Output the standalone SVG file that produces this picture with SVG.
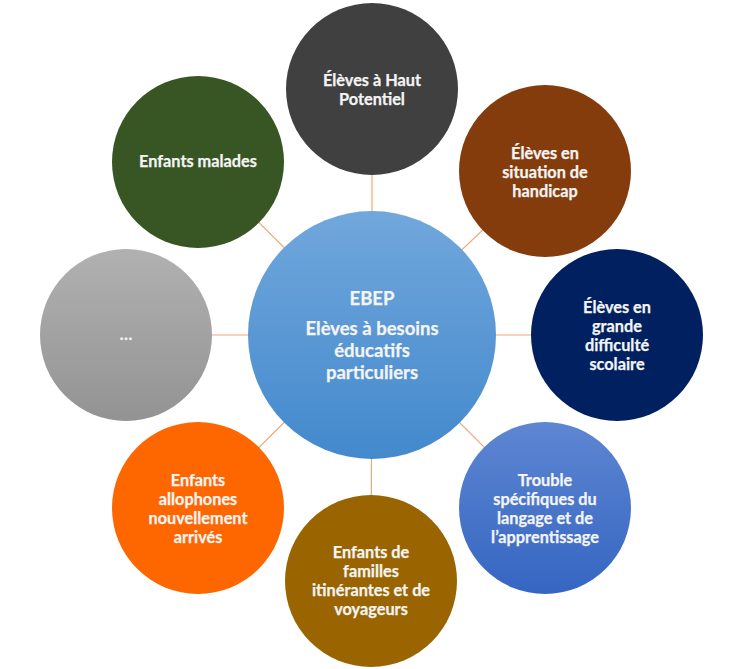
<svg xmlns="http://www.w3.org/2000/svg" width="750" height="669" viewBox="0 0 750 669">
<defs>
<linearGradient id="gCenter" x1="0" y1="0" x2="0" y2="1"><stop offset="0" stop-color="#71A7DC"/><stop offset="1" stop-color="#4389CD"/></linearGradient>
<linearGradient id="gGrey" x1="0" y1="0" x2="0" y2="1"><stop offset="0" stop-color="#B1B1B1"/><stop offset="1" stop-color="#939393"/></linearGradient>
<linearGradient id="gBlue" x1="0" y1="0" x2="0" y2="1"><stop offset="0" stop-color="#5E86D2"/><stop offset="1" stop-color="#3566C2"/></linearGradient>
<style>
.t{font-family:Lato,"Liberation Sans",sans-serif;font-weight:bold;font-size:16.3px;fill:#F4F4F4;text-anchor:middle;stroke:#F4F4F4;stroke-width:0.25}
.c{font-family:Lato,"Liberation Sans",sans-serif;font-weight:bold;font-size:18.5px;fill:#F4F4F4;text-anchor:middle;stroke:#F4F4F4;stroke-width:0.25}
.ln{stroke:#F0A878;stroke-width:1.2}
</style>
</defs>
<rect width="750" height="669" fill="#fff"/>
<g id="connectors">
<line class="ln" x1="372" y1="335" x2="372" y2="89"/>
<line class="ln" x1="372" y1="335" x2="545" y2="171"/>
<line class="ln" x1="372" y1="335" x2="617" y2="335"/>
<line class="ln" x1="372" y1="335" x2="545" y2="508"/>
<line class="ln" x1="372" y1="335" x2="371" y2="581"/>
<line class="ln" x1="372" y1="335" x2="198" y2="508"/>
<line class="ln" x1="372" y1="335" x2="126" y2="335"/>
<line class="ln" x1="372" y1="335" x2="198" y2="162"/>
</g>
<g id="center">
<circle cx="372" cy="335" r="124" fill="url(#gCenter)"/>
<text class="c" x="372" y="305">EBEP</text>
<text class="c" x="372" y="335">Elèves à besoins</text>
<text class="c" x="372" y="357">éducatifs</text>
<text class="c" x="372" y="379">particuliers</text>
</g>
<g id="n-haut-potentiel">
<circle cx="372" cy="89" r="86" fill="#404040"/>
<text class="t" x="372" y="86">Élèves à Haut</text>
<text class="t" x="372" y="105">Potentiel</text>
</g>
<g id="n-handicap">
<circle cx="545" cy="171" r="86" fill="#843C0C"/>
<text class="t" x="545" y="159">Élèves en</text>
<text class="t" x="545" y="178">situation de</text>
<text class="t" x="545" y="197">handicap</text>
</g>
<g id="n-difficulte">
<circle cx="617" cy="335" r="86" fill="#002060"/>
<text class="t" x="617" y="313">Élèves en</text>
<text class="t" x="617" y="332">grande</text>
<text class="t" x="617" y="351">difficulté</text>
<text class="t" x="617" y="370">scolaire</text>
</g>
<g id="n-trouble">
<circle cx="545" cy="508" r="86" fill="url(#gBlue)"/>
<text class="t" x="545" y="486">Trouble</text>
<text class="t" x="545" y="505">spécifiques du</text>
<text class="t" x="545" y="524">langage et de</text>
<text class="t" x="545" y="543">l’apprentissage</text>
</g>
<g id="n-itinerants">
<circle cx="371" cy="581" r="86" fill="#9A6500"/>
<text class="t" x="371" y="558">Enfants de</text>
<text class="t" x="371" y="577">familles</text>
<text class="t" x="371" y="596">itinérantes et de</text>
<text class="t" x="371" y="615">voyageurs</text>
</g>
<g id="n-allophones">
<circle cx="198" cy="508" r="86" fill="#FE6600"/>
<text class="t" x="198" y="486">Enfants</text>
<text class="t" x="198" y="505">allophones</text>
<text class="t" x="198" y="524">nouvellement</text>
<text class="t" x="198" y="543">arrivés</text>
</g>
<g id="n-autres">
<circle cx="126" cy="335" r="86" fill="url(#gGrey)"/>
<text class="t" x="126" y="340">…</text>
</g>
<g id="n-malades">
<circle cx="198" cy="162" r="86" fill="#375623"/>
<text class="t" x="198" y="167">Enfants malades</text>
</g>
</svg>
